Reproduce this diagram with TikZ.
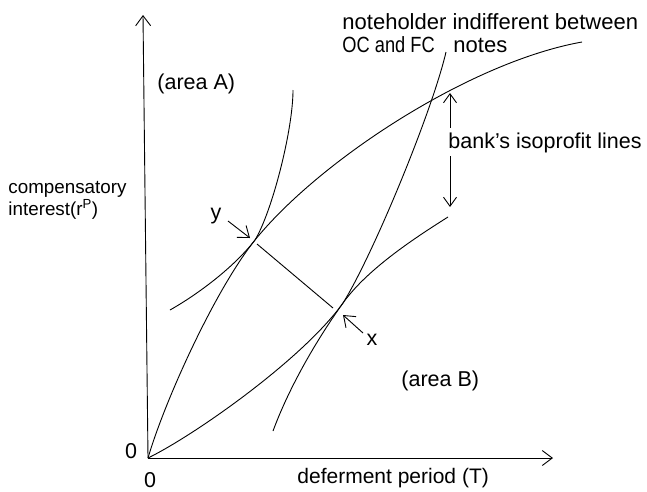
\documentclass[tikz,border=0pt]{standalone}
\usepackage{fontspec}
\setmainfont{Liberation Sans}
\usetikzlibrary{arrows.meta}
\begin{document}
\begin{tikzpicture}[x=1pt,y=-1pt, line width=0.9pt,
  lbl/.style={font=\fontsize{21.5}{25}\selectfont, inner sep=0pt},
  tip/.style={-{Straight Barb[length=10pt,width=15pt]}},
  dtip/.style={{Straight Barb[length=9pt,width=13pt]}-{Straight Barb[length=9pt,width=13pt]}}]
\useasboundingbox (0,0) rectangle (647,491);
% axes
\coordinate (O) at (148,458);
\coordinate (ytop) at (143,15);
\coordinate (xend) at (553,458);
\draw[tip] (O) -- (ytop);
\draw[tip] (O) -- (xend);
% key points
\coordinate (Y) at (255,240);
\coordinate (X) at (343,303);
% curve 1 (concave, from origin)
\coordinate (c1e) at (582,42);
\draw (O) .. controls (165,400) and (215,290) .. (Y)
          .. controls (320,160) and (470,62) .. (c1e);
% curve 2 (noteholder indifferent, convex)
\coordinate (c2e) at (446,52);
\draw (O) .. controls (195,435) and (303,359) .. (X)
          .. controls (373,255) and (432,112) .. (c2e);
% upper isoprofit through y
\coordinate (u1) at (170,310);
\coordinate (u2) at (293,90);
\draw (u1) .. controls (200,293) and (235,266) .. (Y)
           .. controls (272,212) and (293,130) .. (u2);
% lower isoprofit through x
\coordinate (l1) at (273,431);
\coordinate (l2) at (448,217);
\draw (l1) .. controls (290,385) and (318,338) .. (X)
           .. controls (368,268) and (418,236) .. (l2);
% segment y-x
\coordinate (s1) at (257,244);
\coordinate (s2) at (333,308);
\draw (s1) -- (s2);
% labels
\node[lbl, anchor=base] (zl) at (131,458) {0};
\node[lbl, anchor=base] (zb) at (150,487) {0};
\node[lbl, anchor=base west, font=\fontsize{21}{25}\selectfont] (xl) at (297,483) {deferment period (T)};
\node[lbl, anchor=base west, font=\fontsize{18.8}{23}\selectfont] (yl1) at (8,193) {compensatory};
\node[lbl, anchor=base west, font=\fontsize{18.8}{23}\selectfont] (yl2) at (8,215) {interest(r\textsuperscript{P})};
\node[lbl, anchor=base west] (aA) at (157,89) {(area A)};
\node[lbl, anchor=base west] (aB) at (401,386) {(area B)};
\node[lbl, anchor=base west, font=\fontsize{22}{25}\selectfont] (nh1) at (342,29) {noteholder indifferent between};
\node[lbl, anchor=base west, font=\fontsize{22}{25}\selectfont] (nh2) at (342,52) {\scalebox{0.83}[1]{OC and FC}};
\node[lbl, anchor=base west, font=\fontsize{22}{25}\selectfont] (nh3) at (453,52) {notes};
% double arrow and its label
\coordinate (da1) at (450,93);
\coordinate (da2) at (450,207);
\draw[dtip] (da1) -- (da2);
\node[lbl, anchor=base west, fill=white, inner ysep=4pt, inner xsep=1pt] (bk) at (447,148) {bank's isoprofit lines};
% y and x pointers
\node[lbl, anchor=base] (ylab) at (216,219) {y};
\coordinate (ya) at (228,221);
\coordinate (yb) at (250,238);
\draw[tip] (ya) -- (yb);
\node[lbl, anchor=base] (xlab) at (372,345) {x};
\coordinate (xa) at (363,333);
\coordinate (xb) at (343,315);
\draw[tip] (xa) -- (xb);
\end{tikzpicture}
\end{document}
